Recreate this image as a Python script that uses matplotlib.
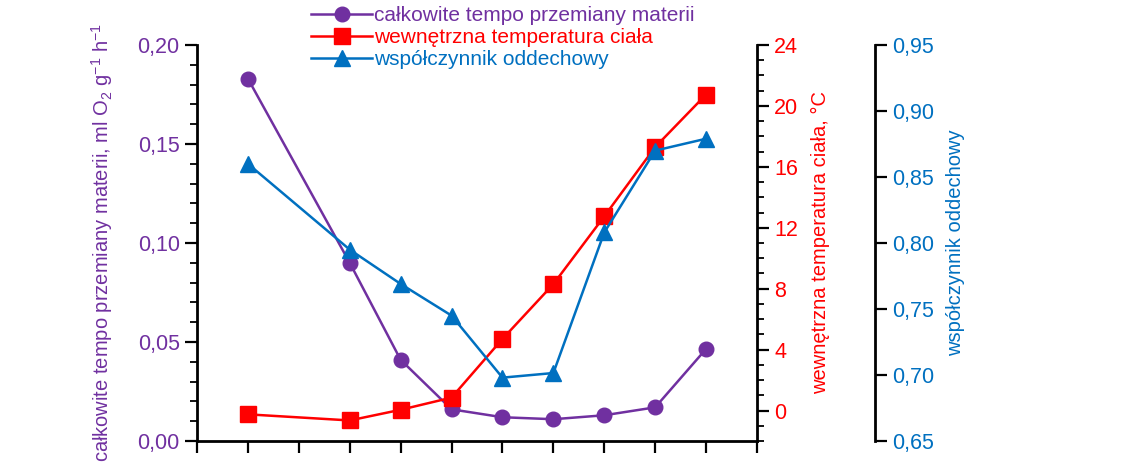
import matplotlib
matplotlib.use("Agg")
import matplotlib.pyplot as plt
from matplotlib.ticker import MultipleLocator, FuncFormatter

# data
x = [1, 3, 4, 5, 6, 7, 8, 9, 10]
metabolism = [0.183, 0.090, 0.041, 0.016, 0.012, 0.011, 0.013, 0.017, 0.0465]
body_temp = [-0.25, -0.65, 0.05, 0.85, 4.7, 8.3, 12.75, 17.3, 20.75]
resp_quot = [0.860, 0.795, 0.769, 0.745, 0.698, 0.7015, 0.808, 0.870, 0.879]

labels = ['całkowite tempo przemiany materii',
          'wewnętrzna temperatura ciała',
          'współczynnik oddechowy']

purple = '#7030A0'
red = '#FF0000'
blue = '#0070C0'

plt.rcParams['font.family'] = ['Liberation Sans', 'DejaVu Sans']
plt.rcParams['font.size'] = 15.5
plt.rcParams['mathtext.fontset'] = 'custom'
plt.rcParams['mathtext.rm'] = 'Liberation Sans'
plt.rcParams['mathtext.it'] = 'Liberation Sans'

fig = plt.figure(figsize=(11.46, 4.7), dpi=100)
ax = fig.add_axes([197 / 1146, 1 - 441 / 470, 560 / 1146, 396 / 470])
ax2 = ax.twinx()
ax3 = ax.twinx()


def comma(v, pos, fmt):
    return (fmt % v).replace('.', ',')


lw = 1.8
l1, = ax.plot(x, metabolism, color=purple, lw=lw, marker='o', ms=10.5, zorder=3)
l2, = ax2.plot(x, body_temp, color=red, lw=lw, marker='s', ms=12, zorder=3)
l3, = ax3.plot(x, resp_quot, color=blue, lw=lw, marker='^', ms=11.5, zorder=3)

ax.set_xlim(0, 11)
ax.set_ylim(0, 0.20)
ax2.set_ylim(-2, 24)
ax3.set_ylim(0.65, 0.95)

ax.xaxis.set_major_locator(MultipleLocator(1))
ax.set_xticklabels([])
ax.yaxis.set_major_locator(MultipleLocator(0.05))
ax.yaxis.set_minor_locator(MultipleLocator(0.01))
ax.yaxis.set_major_formatter(FuncFormatter(lambda v, p: comma(v, p, '%.2f')))
ax2.yaxis.set_major_locator(MultipleLocator(4))
ax2.yaxis.set_minor_locator(MultipleLocator(1))
ax2.yaxis.set_major_formatter(FuncFormatter(lambda v, p: '%d' % round(v)))
ax3.yaxis.set_major_locator(MultipleLocator(0.05))
ax3.yaxis.set_major_formatter(FuncFormatter(lambda v, p: comma(v, p, '%.2f')))

for a in (ax, ax2, ax3):
    for s in a.spines.values():
        s.set_visible(False)
        s.set_linewidth(2)

ax.spines['left'].set_visible(True)
ax.spines['bottom'].set_visible(True)
ax2.spines['right'].set_visible(True)
ax3.spines['right'].set_visible(True)
ax3.spines['right'].set_position(('axes', 1 + 118 / 560))

ax.tick_params(axis='x', which='major', direction='out', length=8.5, width=1.6)
for a, c in ((ax, purple), (ax2, red), (ax3, blue)):
    a.tick_params(axis='y', which='major', direction='out', length=8.5, width=1.6,
                  labelcolor=c, pad=4)
    a.tick_params(axis='y', which='minor', direction='out', length=5, width=1.3)

ax.set_ylabel('całkowite tempo przemiany materii, ml O$_2$ g$^{-1}$ h$^{-1}$',
              color=purple, labelpad=16, fontsize=14.5)
ax2.set_ylabel('wewnętrzna temperatura ciała, °C', color=red, labelpad=9, fontsize=14.5)
ax3.set_ylabel('współczynnik oddechowy', color=blue, labelpad=8, fontsize=14.5)

fig.legend([l1, l2, l3], labels, loc='upper left', bbox_to_anchor=(303 / 1146, 1.005),
           frameon=False, handlelength=2.9, labelspacing=0.15, handletextpad=0.1,
           labelcolor='linecolor', borderaxespad=0, fontsize=15)

fig.savefig('out.png', dpi=100)
